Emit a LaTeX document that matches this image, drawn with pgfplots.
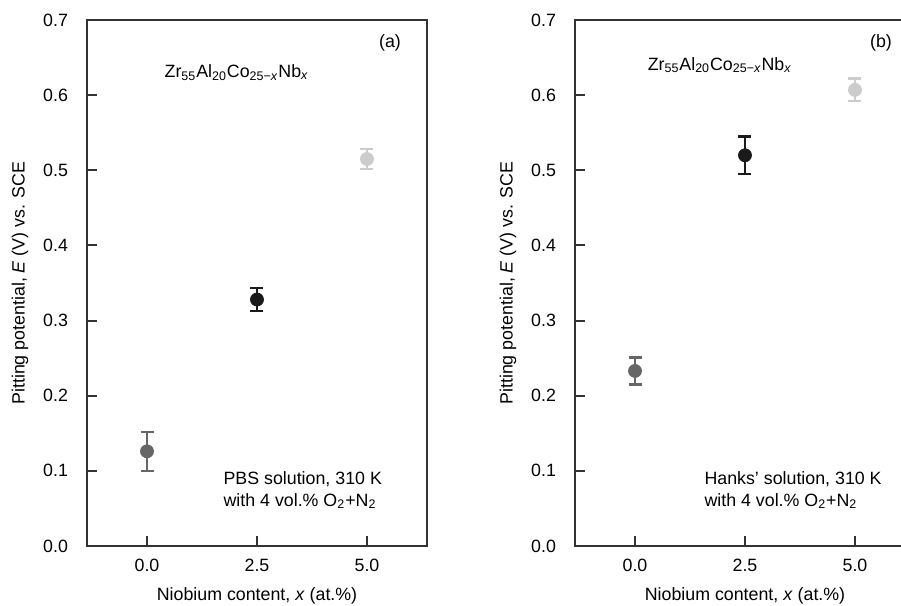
\documentclass[border=0pt]{standalone}
\usepackage{pgfplots}
\pgfplotsset{compat=1.18}
\usepackage{fontspec}
\setmainfont{Liberation Sans}
\definecolor{cdark}{HTML}{666666}
\definecolor{cblack}{HTML}{1A1A1A}
\definecolor{clight}{HTML}{CCCCCC}
\definecolor{frame}{HTML}{333333}
\newcommand{\fs}{\fontsize{8.9}{10.8}\selectfont}
\pgfplotsset{
  panel/.style={
    scale only axis, width=170pt, height=263pt,
    xmin=-1.364, xmax=6.364, ymin=0, ymax=0.7,
    xtick={0,2.5,5}, ytick={0,0.1,...,0.7},
    tick align=inside, xtick pos=bottom, ytick pos=left,
    major tick length=5pt,
    axis line style={frame, line width=1pt},
    every tick/.style={frame, line width=1pt},
    /pgf/number format/assume math mode=true,
    /pgf/number format/.cd, fixed, fixed zerofill, precision=1, /pgfplots/.cd,
    tick label style={font=\fs},
    yticklabel style={xshift=-6pt},
    xticklabel style={yshift=-3pt},
    label style={font=\fs},
    xlabel={Niobium content, \textit{x} (at.\%)},
    ylabel={Pitting potential, \textit{E} (V) vs. SCE},
    xlabel style={at={(axis description cs:0.5,0)}, anchor=center, yshift=-25pt},
    ylabel style={at={(axis description cs:0,0.5)}, anchor=center, yshift=33.5pt},
    clip=false,
  },
  ebar/.style={
    only marks, mark=*, mark size=3.25pt, color=#1,
    mark options={fill=#1, draw=#1},
    error bars/.cd, y dir=both, y explicit,
    error bar style={line width=1.2pt, #1},
    error mark options={rotate=90, mark size=3.25pt, line width=1.2pt, #1},
  },
}
\newcommand{\alloy}{Zr\textsubscript{55}Al\textsubscript{20}Co\textsubscript{25−\textit{x}}Nb\textsubscript{\textit{x}}}
\begin{document}
\begin{tikzpicture}[x=1pt,y=1pt]
\begin{axis}[panel, at={(43.5pt,30pt)}, anchor=south west]
\addplot+[ebar=cdark] coordinates {(0,0.126) +- (0,0.026)};
\addplot+[ebar=cblack] coordinates {(2.5,0.328) +- (0,0.015)};
\addplot+[ebar=clight] coordinates {(5,0.515) +- (0,0.013)};
\node[anchor=east, font=\fs] at (axis cs:5.93,0.669) {(a)};
\node[anchor=west, font=\fs] at (axis cs:0.24,0.630) {\alloy};
\node[anchor=west, align=left, font=\fs] at (axis cs:1.58,0.074) {PBS solution, 310 K\\with 4 vol.\% O\textsubscript{2}+N\textsubscript{2}};
\end{axis}
\begin{axis}[panel, at={(287.5pt,30pt)}, anchor=south west]
\addplot+[ebar=cdark] coordinates {(0,0.233) +- (0,0.018)};
\addplot+[ebar=cblack] coordinates {(2.5,0.520) +- (0,0.025)};
\addplot+[ebar=clight] coordinates {(5,0.607) +- (0,0.015)};
\node[anchor=east, font=\fs] at (axis cs:6.0,0.669) {(b)};
\node[anchor=west, font=\fs] at (axis cs:0.13,0.640) {\alloy};
\node[anchor=west, align=left, font=\fs] at (axis cs:1.42,0.074) {Hanks' solution, 310 K\\with 4 vol.\% O\textsubscript{2}+N\textsubscript{2}};
\end{axis}
\pgfresetboundingbox
\path[use as bounding box] (0,0) rectangle (450.5,303);
\end{tikzpicture}
\end{document}
